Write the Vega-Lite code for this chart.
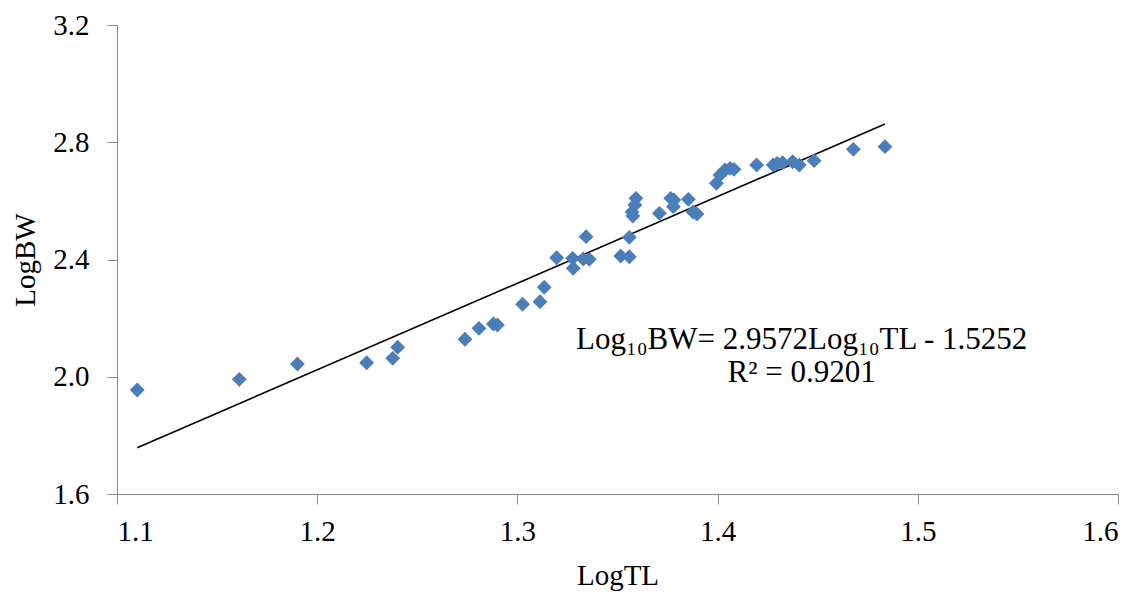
{
  "$schema": "https://vega.github.io/schema/vega-lite/v6.json",
  "autosize": "none",
  "width": 1001,
  "height": 469,
  "padding": {"left": 117, "top": 25, "right": 28, "bottom": 105},
  "background": "white",
  "config": {"view": {"stroke": null}, "font": "Liberation Serif, Times New Roman, serif"},
  "datasets": {
    "pts": [
      {"LogTL": 1.1101, "LogBW": 1.9548},
      {"LogTL": 1.1611, "LogBW": 1.9913},
      {"LogTL": 1.1901, "LogBW": 2.0435},
      {"LogTL": 1.2247, "LogBW": 2.0479},
      {"LogTL": 1.2377, "LogBW": 2.0629},
      {"LogTL": 1.2402, "LogBW": 2.1005},
      {"LogTL": 1.2738, "LogBW": 2.1278},
      {"LogTL": 1.2808, "LogBW": 2.1653},
      {"LogTL": 1.2880, "LogBW": 2.1800},
      {"LogTL": 1.2900, "LogBW": 2.1766},
      {"LogTL": 1.3026, "LogBW": 2.2472},
      {"LogTL": 1.3113, "LogBW": 2.2560},
      {"LogTL": 1.3134, "LogBW": 2.3052},
      {"LogTL": 1.3196, "LogBW": 2.4061},
      {"LogTL": 1.3276, "LogBW": 2.4041},
      {"LogTL": 1.3279, "LogBW": 2.3700},
      {"LogTL": 1.3329, "LogBW": 2.4017},
      {"LogTL": 1.3359, "LogBW": 2.4007},
      {"LogTL": 1.3343, "LogBW": 2.4778},
      {"LogTL": 1.3516, "LogBW": 2.4119},
      {"LogTL": 1.3559, "LogBW": 2.4095},
      {"LogTL": 1.3559, "LogBW": 2.4757},
      {"LogTL": 1.3572, "LogBW": 2.5620},
      {"LogTL": 1.3577, "LogBW": 2.5484},
      {"LogTL": 1.3587, "LogBW": 2.5859},
      {"LogTL": 1.3592, "LogBW": 2.6088},
      {"LogTL": 1.3709, "LogBW": 2.5576},
      {"LogTL": 1.3766, "LogBW": 2.6088},
      {"LogTL": 1.3779, "LogBW": 2.5801},
      {"LogTL": 1.3782, "LogBW": 2.6030},
      {"LogTL": 1.3854, "LogBW": 2.6054},
      {"LogTL": 1.3877, "LogBW": 2.5620},
      {"LogTL": 1.3897, "LogBW": 2.5552},
      {"LogTL": 1.3994, "LogBW": 2.6600},
      {"LogTL": 1.4012, "LogBW": 2.6883},
      {"LogTL": 1.4037, "LogBW": 2.7053},
      {"LogTL": 1.4062, "LogBW": 2.7111},
      {"LogTL": 1.4082, "LogBW": 2.7077},
      {"LogTL": 1.4195, "LogBW": 2.7224},
      {"LogTL": 1.4278, "LogBW": 2.7224},
      {"LogTL": 1.4297, "LogBW": 2.7282},
      {"LogTL": 1.4325, "LogBW": 2.7302},
      {"LogTL": 1.4375, "LogBW": 2.7336},
      {"LogTL": 1.4408, "LogBW": 2.7224},
      {"LogTL": 1.4482, "LogBW": 2.7371},
      {"LogTL": 1.4678, "LogBW": 2.7759},
      {"LogTL": 1.4836, "LogBW": 2.7848}
    ],
    "fit": [
      {"LogTL": 1.1101, "LogBW": 1.7576},
      {"LogTL": 1.4836, "LogBW": 2.8620}
    ],
    "labels": [
      {"LogTL": 1.4420, "LogBW": 2.1254, "text": "Log₁₀BW= 2.9572Log₁₀TL - 1.5252"},
      {"LogTL": 1.4420, "LogBW": 2.0128, "text": "R² = 0.9201"}
    ]
  },
  "layer": [
    {
      "data": {"name": "fit"},
      "mark": {"type": "line", "color": "black", "strokeWidth": 1.6},
      "encoding": {
        "x": {"field": "LogTL", "type": "quantitative", "scale": {"domain": [1.1, 1.6], "nice": false, "zero": false},
          "axis": {"title": "LogTL", "values": [1.1, 1.2, 1.3, 1.4, 1.5, 1.6], "format": ".1f", "grid": false,
            "domainColor": "#868686", "tickColor": "#868686", "tickSize": 10, "labelFontSize": 29, "labelColor": "black",
            "labelFont": "Liberation Serif, Times New Roman, serif", "labelPadding": 13, "titleFont": "Liberation Serif, Times New Roman, serif", "titleFontSize": 29,
            "titleFontWeight": "normal", "titleColor": "black", "titlePadding": 15}},
        "y": {"field": "LogBW", "type": "quantitative", "scale": {"domain": [1.6, 3.2], "nice": false, "zero": false},
          "axis": {"title": "LogBW", "values": [1.6, 2.0, 2.4, 2.8, 3.2], "format": ".1f", "grid": false,
            "domainColor": "#868686", "tickColor": "#868686", "tickSize": 10, "labelFontSize": 29, "labelColor": "black",
            "labelFont": "Liberation Serif, Times New Roman, serif", "labelPadding": 18, "titleFont": "Liberation Serif, Times New Roman, serif", "titleFontSize": 29,
            "titleFontWeight": "normal", "titleColor": "black", "titlePadding": 12}}
      }
    },
    {
      "data": {"name": "pts"},
      "mark": {"type": "point", "shape": "diamond", "filled": true, "color": "#4a7ebb", "opacity": 1, "size": 220},
      "encoding": {
        "x": {"field": "LogTL", "type": "quantitative"},
        "y": {"field": "LogBW", "type": "quantitative"}
      }
    },
    {
      "data": {"name": "labels"},
      "mark": {"type": "text", "font": "Liberation Serif, Times New Roman, serif", "fontSize": 31, "color": "black", "align": "center", "baseline": "middle"},
      "encoding": {
        "x": {"field": "LogTL", "type": "quantitative"},
        "y": {"field": "LogBW", "type": "quantitative"},
        "text": {"field": "text"}
      }
    }
  ]
}
